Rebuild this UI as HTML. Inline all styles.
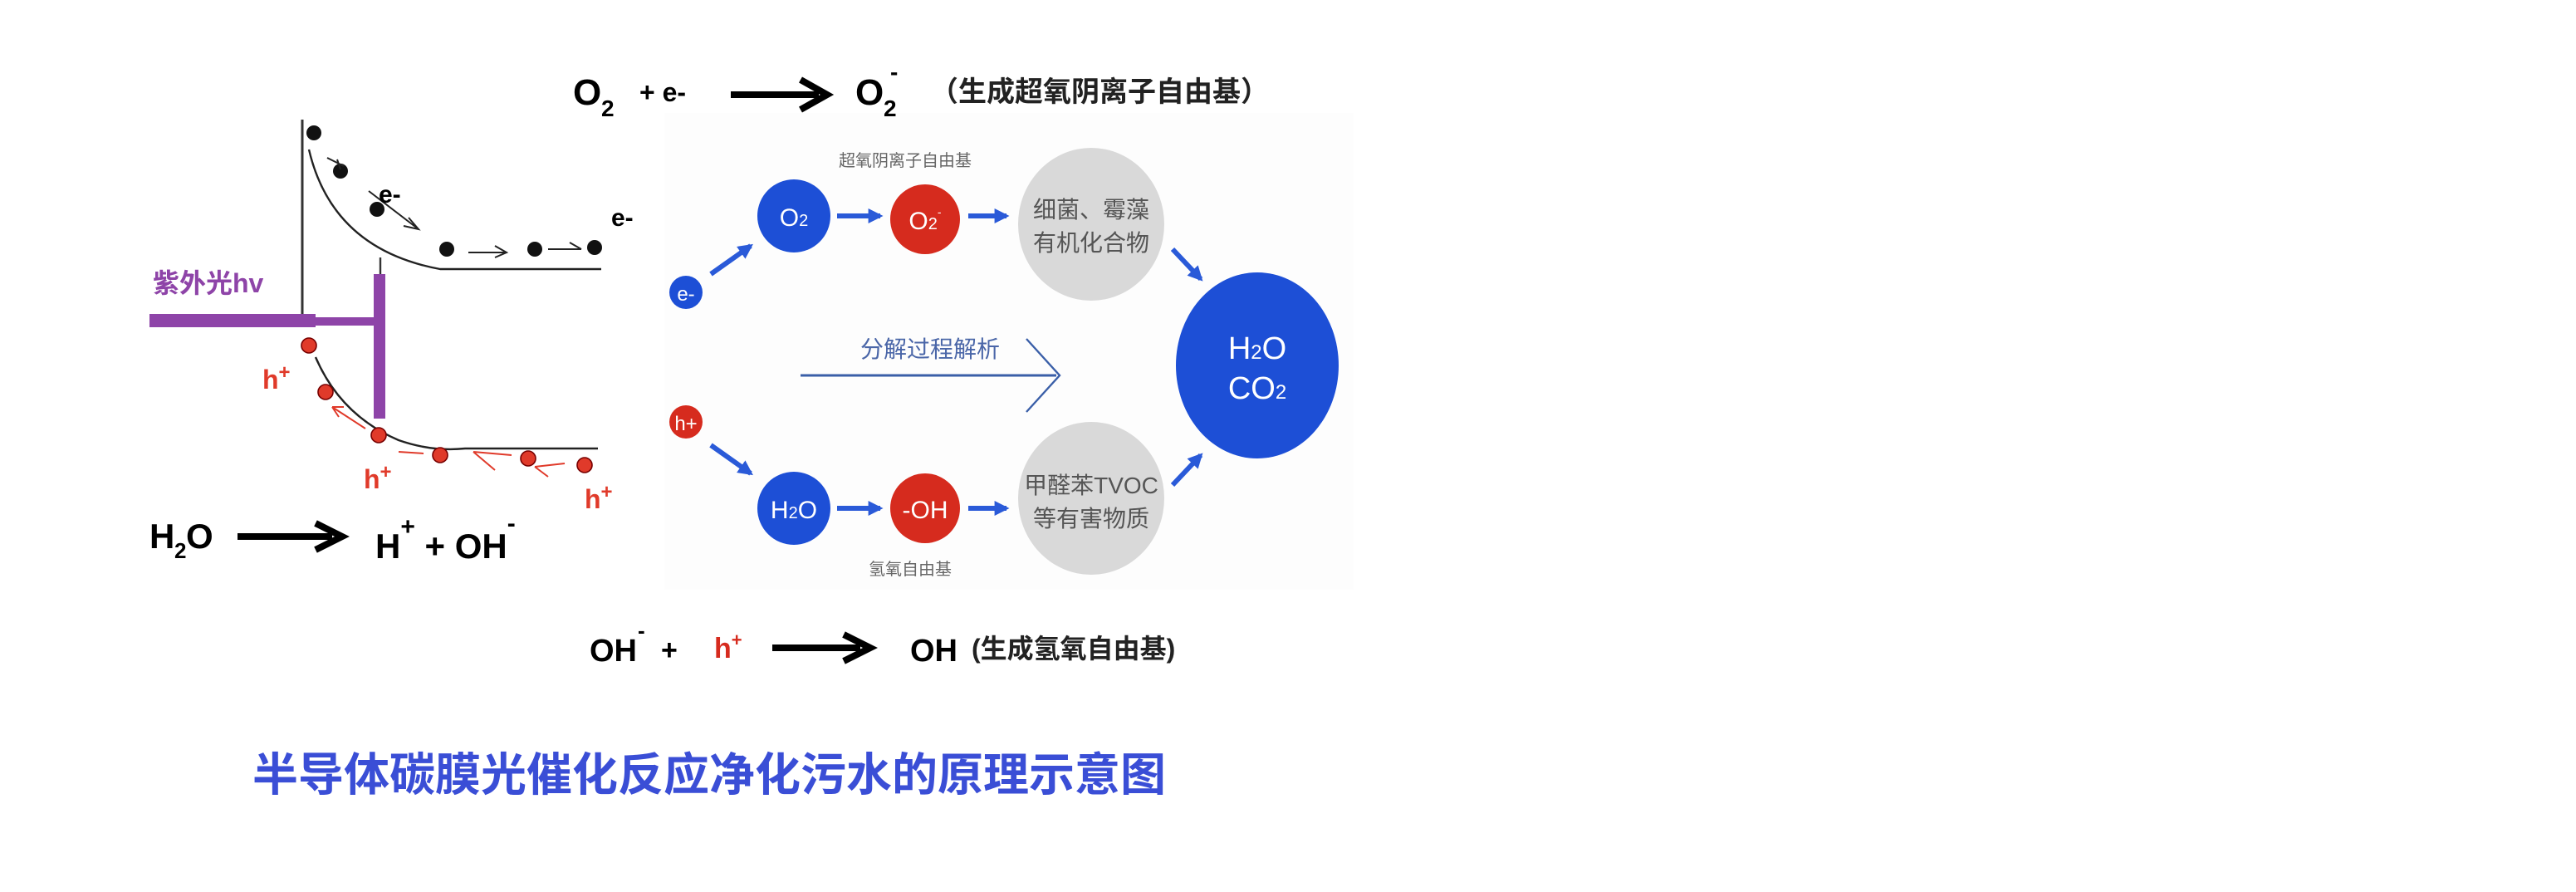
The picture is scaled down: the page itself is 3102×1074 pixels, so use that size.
<!DOCTYPE html>
<html><head><meta charset="utf-8"><style>
html,body{margin:0;padding:0;background:#fff;}
svg{display:block;}
text{font-family:"Liberation Sans","Noto Sans CJK SC",sans-serif;}
</style></head><body>
<svg width="3102" height="1074" viewBox="0 0 1551 537" xmlns="http://www.w3.org/2000/svg">
<defs>
<marker id="ba" viewBox="0 0 10 10" refX="8" refY="5" markerWidth="3" markerHeight="3" orient="auto"><path d="M0,0 L10,5 L0,10 z" fill="#2a5ad8"/></marker>
</defs>
<rect width="1551" height="537" fill="#fff"/>
<rect x="400" y="68" width="415" height="287" fill="#fdfdfd"/>
<!-- top equation -->
<text x="345" y="63" font-size="22" font-weight="bold">O</text>
<text x="362" y="70" font-size="14" font-weight="bold">2</text>
<text x="385" y="61" font-size="16" font-weight="bold">+ e-</text>
<line x1="440" y1="57" x2="493" y2="57" stroke="#000" stroke-width="4"/>
<path d="M482,48 L498,57 L482,66" fill="none" stroke="#000" stroke-width="4"/>
<text x="515" y="63" font-size="22" font-weight="bold">O</text>
<text x="532" y="70" font-size="14" font-weight="bold">2</text>
<text x="536" y="48" font-size="14" font-weight="bold">-</text>
<text x="560" y="61" font-size="17" font-weight="bold" fill="#222">（生成超氧阴离子自由基）</text>

<!-- left band diagram -->
<line x1="182" y1="72" x2="182" y2="196" stroke="#333" stroke-width="1.5"/>
<path d="M186,90 Q200,150 265,162 L362,162" fill="none" stroke="#222" stroke-width="1.2"/>
<g fill="#111">
<circle cx="189" cy="80" r="4.5"/><circle cx="205" cy="103" r="4.5"/><circle cx="227" cy="126" r="4.5"/>
<circle cx="269" cy="150" r="4.5"/><circle cx="322" cy="150" r="4.5"/><circle cx="358" cy="149" r="4.5"/>
</g>
<g stroke="#222" stroke-width="1" fill="none">
<path d="M197,95 L207,100 M203,96 L205,102"/>
<path d="M222,115 L252,138 M243,136 L252,138 L246,131"/>
<path d="M282,152 L305,152 M298,148 L305,152 L298,155"/>
<path d="M330,150 L350,150 M343,146 L350,150"/>
</g>
<text x="228" y="122" font-size="15" font-weight="bold">e-</text>
<text x="368" y="136" font-size="15" font-weight="bold">e-</text>
<!-- purple light -->
<rect x="90" y="189" width="100" height="8" fill="#8e44a8"/>
<rect x="188" y="191" width="42" height="5" fill="#8e44a8"/>
<rect x="225" y="165" width="7" height="87" fill="#8e44a8"/>
<line x1="229" y1="155" x2="229" y2="165" stroke="#333" stroke-width="1.2"/>
<text x="92" y="176" font-size="16" font-weight="bold" fill="#8e44a8">紫外光hv</text>
<!-- holes -->
<path d="M190,215 Q205,250 240,265 Q260,272 280,270 L360,270" fill="none" stroke="#222" stroke-width="1.2"/>
<g fill="#e03a2a" stroke="#700" stroke-width="0.8">
<circle cx="186" cy="208" r="4.5"/><circle cx="196" cy="236" r="4.5"/><circle cx="228" cy="262" r="4.5"/>
<circle cx="265" cy="274" r="4.5"/><circle cx="318" cy="276" r="4.5"/><circle cx="352" cy="280" r="4.5"/>
</g>
<g stroke="#e03a2a" stroke-width="1" fill="none">
<path d="M220,258 L200,245 M200,245 L207,245 M200,245 L204,251"/>
<path d="M340,279 L322,281 M322,281 L330,287"/>
<path d="M308,274 L285,272 M285,272 L298,283"/>
<path d="M255,273 L240,272"/>
</g>
<text x="158" y="234" font-size="16" font-weight="bold" fill="#e03a2a">h<tspan font-size="12" dy="-6">+</tspan></text>
<text x="219" y="294" font-size="16" font-weight="bold" fill="#e03a2a">h<tspan font-size="12" dy="-6">+</tspan></text>
<text x="352" y="306" font-size="16" font-weight="bold" fill="#e03a2a">h<tspan font-size="12" dy="-6">+</tspan></text>
<!-- H2O eq -->
<text x="90" y="330" font-size="21" font-weight="bold">H</text>
<text x="105" y="336" font-size="13" font-weight="bold">2</text>
<text x="112" y="330" font-size="21" font-weight="bold">O</text>
<line x1="143" y1="323" x2="200" y2="323" stroke="#000" stroke-width="4"/>
<path d="M190,315 L206,323 L190,331" fill="none" stroke="#000" stroke-width="4"/>
<text x="226" y="336" font-size="21" font-weight="bold">H<tspan font-size="15" dy="-14">+</tspan><tspan dy="14"> + OH</tspan><tspan font-size="15" dy="-16">-</tspan></text>

<!-- process panel -->
<circle cx="413" cy="176" r="10" fill="#1d4fd6"/>
<text x="413" y="181" font-size="12" fill="#fff" text-anchor="middle">e-</text>
<circle cx="413" cy="254" r="10" fill="#d62b1e"/>
<text x="413" y="259" font-size="12" fill="#fff" text-anchor="middle">h+</text>
<circle cx="478" cy="130" r="22" fill="#1d4fd6"/>
<text x="478" y="136" font-size="15" fill="#fff" text-anchor="middle">O<tspan font-size="10">2</tspan></text>
<circle cx="557" cy="132" r="21" fill="#d62b1e"/>
<text x="557" y="138" font-size="15" fill="#fff" text-anchor="middle">O<tspan font-size="10">2</tspan><tspan font-size="7" dy="-8">-</tspan></text>
<ellipse cx="657" cy="135" rx="44" ry="46" fill="#d9d9d9"/>
<text x="657" y="131" font-size="14" fill="#555" text-anchor="middle">细菌、霉藻</text>
<text x="657" y="151" font-size="14" fill="#555" text-anchor="middle">有机化合物</text>
<circle cx="478" cy="306" r="22" fill="#1d4fd6"/>
<text x="478" y="312" font-size="15" fill="#fff" text-anchor="middle">H<tspan font-size="10">2</tspan>O</text>
<circle cx="557" cy="306" r="21" fill="#d62b1e"/>
<text x="557" y="312" font-size="15" fill="#fff" text-anchor="middle">-OH</text>
<ellipse cx="657" cy="300" rx="44" ry="46" fill="#d9d9d9"/>
<text x="657" y="297" font-size="14" fill="#555" text-anchor="middle">甲醛苯TVOC</text>
<text x="657" y="317" font-size="14" fill="#555" text-anchor="middle">等有害物质</text>
<ellipse cx="757" cy="220" rx="49" ry="56" fill="#1d4fd6"/>
<text x="757" y="216" font-size="19" fill="#fff" text-anchor="middle">H<tspan font-size="12">2</tspan>O</text>
<text x="757" y="240" font-size="19" fill="#fff" text-anchor="middle">CO<tspan font-size="12">2</tspan></text>
<text x="545" y="100" font-size="10" fill="#666" text-anchor="middle">超氧阴离子自由基</text>
<text x="548" y="346" font-size="10" fill="#666" text-anchor="middle">氢氧自由基</text>
<g stroke="#2a5ad8" stroke-width="3" marker-end="url(#ba)">
<line x1="428" y1="165" x2="452" y2="148"/>
<line x1="428" y1="268" x2="452" y2="285"/>
<line x1="504" y1="130" x2="530" y2="130"/>
<line x1="583" y1="130" x2="606" y2="130"/>
<line x1="504" y1="306" x2="530" y2="306"/>
<line x1="583" y1="306" x2="606" y2="306"/>
<line x1="706" y1="150" x2="723" y2="168"/>
<line x1="706" y1="292" x2="723" y2="274"/>
</g>
<text x="560" y="215" font-size="14" fill="#4a66a8" text-anchor="middle">分解过程解析</text>
<line x1="482" y1="226" x2="636" y2="226" stroke="#3a5fa8" stroke-width="1.5"/>
<path d="M618,204 L638,226 L618,248" fill="none" stroke="#3a5fa8" stroke-width="1.2"/>

<!-- bottom eq -->
<text x="355" y="398" font-size="19" font-weight="bold">OH</text>
<text x="384" y="384" font-size="13" font-weight="bold">-</text>
<text x="398" y="397" font-size="17" font-weight="bold">+</text>
<text x="430" y="396" font-size="17" font-weight="bold" fill="#d62b1e">h<tspan font-size="11" dy="-7">+</tspan></text>
<line x1="465" y1="390" x2="518" y2="390" stroke="#000" stroke-width="4"/>
<path d="M508,382 L524,390 L508,398" fill="none" stroke="#000" stroke-width="4"/>
<text x="548" y="398" font-size="19" font-weight="bold">OH</text>
<text x="585" y="396" font-size="16" font-weight="bold" fill="#222">(生成氢氧自由基)</text>

<!-- title -->
<text x="152" y="476" font-size="27.5" font-weight="bold" fill="#3a4ed6">半导体碳膜光催化反应净化污水的原理示意图</text>
</svg>
</body></html>
